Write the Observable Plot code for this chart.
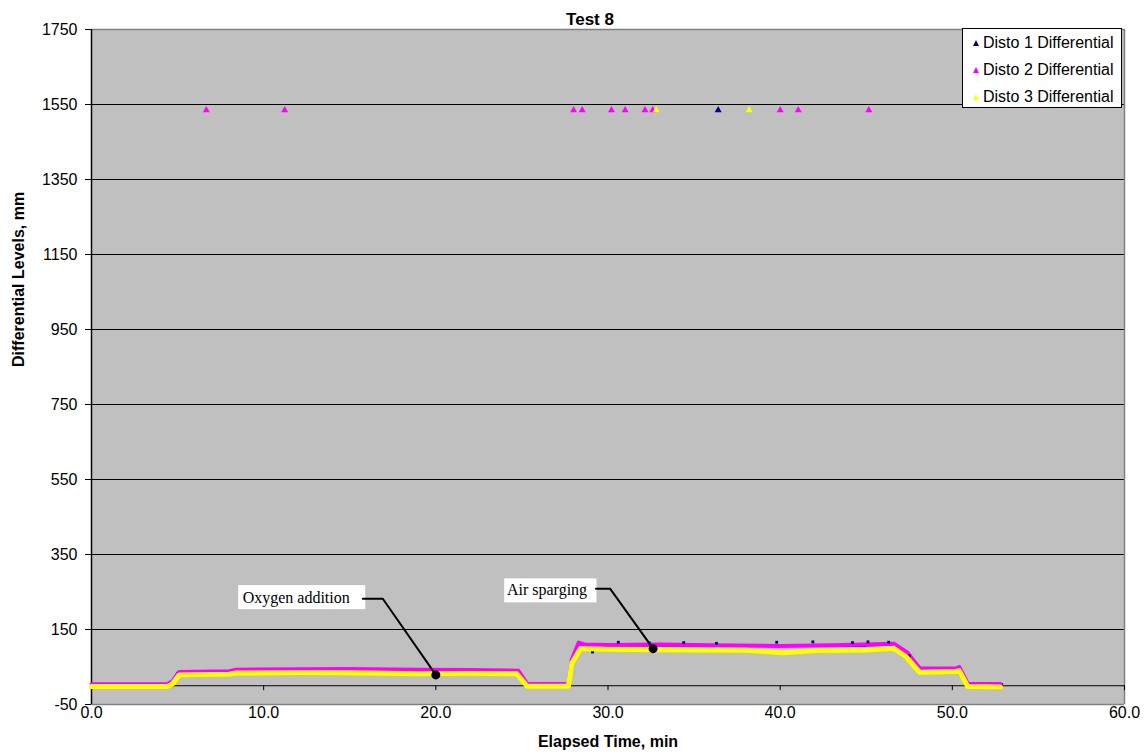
<!DOCTYPE html>
<html>
<head>
<meta charset="utf-8">
<script src="https://cdn.jsdelivr.net/npm/d3@7"></script>
<script src="https://cdn.jsdelivr.net/npm/@observablehq/plot@0.6"></script>
<style>
  html, body { margin: 0; padding: 0; background: #fff; }
  #wrap { position: relative; width: 1147px; height: 754px; font-family: "Liberation Sans", Arial, sans-serif; }
  #legend { position: absolute; left: 962px; top: 28px; width: 158px; height: 78px; border: 1px solid #000; background: #fff; font-size: 16px; }
  #legend .row { position: absolute; left: 0; height: 20px; line-height: 20px; white-space: nowrap; }
  #legend svg { position: absolute; left: 10px; top: 7px; }
  #legend span { position: absolute; left: 20px; top: 0; }
</style>
</head>
<body>
<div id="wrap"></div>
<script>
// ---- Data ----
const title = "Test 8";
const xLabel = "Elapsed Time, min";
const yLabel = "Differential Levels, mm";
const seriesNames = ["Disto 1 Differential", "Disto 2 Differential", "Disto 3 Differential"];
const seriesColors = ["#000080", "#FF00FF", "#FFFF00"];

const xTicks = [0, 10, 20, 30, 40, 50, 60];
const yTicks = [-50, 150, 350, 550, 750, 950, 1150, 1350, 1550, 1750];

// Disto 1 (navy) – mostly hidden under the others
const disto1Time = [0, 4.6, 5.0, 8.0, 12, 19, 24.7, 25.2, 27.7, 28.0, 28.3, 30, 35, 40, 45, 46.6, 47.5, 48.2, 50.2, 50.8, 52.9];
const disto1Value = [3, 3, 36, 39, 42, 40, 40, 5, 5, 80, 113, 108, 107, 106, 107, 110, 82, 45, 45, 5, 5];
// Disto 1 scattered specks on the sparging plateau
const disto1SpeckTime = [29.1, 30.6, 32.4, 34.4, 36.3, 39.8, 41.9, 44.2, 45.1, 46.3, 47.5];
const disto1SpeckValue = [90, 116, 114, 115, 113, 116, 117, 115, 117, 116, 80];

// Disto 2 (magenta)
const disto2Time = [0, 4.4, 4.7, 5.1, 8.0, 8.4, 12, 15, 19, 22, 24.8, 25.3, 27.7, 27.9, 28.3, 28.6, 30, 33, 36, 40, 43, 46.6, 47.4, 48.1, 50.2, 50.4, 50.9, 52.8];
const disto2Value = [4, 4, 12, 37, 39, 43, 44, 45, 43, 42, 40, 5, 5, 70, 115, 110, 109, 110, 108, 106, 108, 112, 88, 46, 46, 50, 5, 5];

// Disto 3 (yellow)
const disto3Time = [0, 4.4, 4.7, 5.1, 8.0, 8.4, 12, 15, 19, 22, 24.7, 25.3, 27.7, 27.9, 28.4, 30, 33, 36, 38, 40.2, 42, 45, 46.6, 47.3, 48.1, 50.2, 50.4, 50.9, 52.8];
const disto3Value = [-2, -2, 5, 29, 31, 34, 35, 35, 32, 33, 32, -1, -1, 60, 99, 97, 96, 95, 95, 88, 94, 95, 100, 78, 36, 38, 40, -2, -3];

// Outliers at the top
const outlierTime = [6.67, 11.22, 28.0, 28.5, 30.2, 31.0, 32.15, 32.6, 32.8, 36.4, 38.2, 40.0, 41.05, 45.15];
const outlierValue = [1535, 1535, 1535, 1535, 1535, 1535, 1535, 1535, 1535, 1535, 1535, 1535, 1535, 1535];
const outlierSeries = [1, 1, 1, 1, 1, 1, 1, 1, 2, 0, 2, 1, 1, 1];

// Annotations
const annoText = ["Oxygen addition", "Air sparging"];
const annoTextX = [8.78, 24.13];
const annoTextY = [235, 256];
const annoBoxX1 = [8.55, 24.0];
const annoBoxX2 = [15.93, 29.36];
const annoBoxY1 = [203, 221];
const annoBoxY2 = [267, 285];
const leader1Time = [15.76, 16.92, 20.0];
const leader1Value = [232, 232, 29];
const leader2Time = [29.3, 30.12, 32.62];
const leader2Value = [259, 259, 99];
const annoDotTime = [20.0, 32.62];
const annoDotValue = [29, 99];

// ---- Build tables ----
const toRows = (ts, vs) => ts.map((t, i) => ({t, v: vs[i]}));
const d1 = toRows(disto1Time, disto1Value);
const d1s = toRows(disto1SpeckTime, disto1SpeckValue);
const d2 = toRows(disto2Time, disto2Value);
const d3 = toRows(disto3Time, disto3Value);
const outliers = outlierTime.map((t, i) => ({t, v: outlierValue[i], c: seriesColors[outlierSeries[i]]}));
const boxes = annoText.map((s, i) => ({s, x1: annoBoxX1[i], x2: annoBoxX2[i], y1: annoBoxY1[i], y2: annoBoxY2[i], tx: annoTextX[i], ty: annoTextY[i]}));
const leader1 = toRows(leader1Time, leader1Value);
const leader2 = toRows(leader2Time, leader2Value);
const annoDots = toRows(annoDotTime, annoDotValue);

const gridVals = yTicks.slice(1, -1);

const chart = Plot.plot({
  width: 1147,
  height: 754,
  marginTop: 29,
  marginRight: 23,
  marginBottom: 50,
  marginLeft: 91,
  style: {fontFamily: "'Liberation Sans', Arial, sans-serif", fontSize: "16px", color: "#000", background: "transparent"},
  x: {domain: [0, 60], ticks: xTicks},
  y: {domain: [-50, 1750], ticks: yTicks},
  marks: [
    Plot.frame({fill: "#C0C0C0", stroke: null}),
    Plot.ruleY(gridVals, {stroke: "#000", strokeWidth: 1}),
    Plot.ruleY([1750, -50], {stroke: "#808080", strokeWidth: 1.5}),
    Plot.ruleX([60], {stroke: "#808080", strokeWidth: 1.5}),
    Plot.ruleY([0], {stroke: "#000", strokeWidth: 1}),
    Plot.ruleX(xTicks, {y1: 0, y2: -13, stroke: "#000"}),
    Plot.axisY({ticks: yTicks, tickSize: 6, tickPadding: 8, label: null, tickFormat: d => String(d)}),
    Plot.ruleX([0], {stroke: "#000", strokeWidth: 1.5}),
    Plot.axisX({ticks: xTicks, tickSize: 0, tickPadding: 2, label: null, tickFormat: d => d.toFixed(1)}),
    // series
    Plot.line(d1, {x: "t", y: "v", stroke: seriesColors[0], strokeWidth: 2}),
    Plot.line(d2, {x: "t", y: "v", stroke: seriesColors[1], strokeWidth: 4}),
    Plot.dot(d1s, {x: "t", y: "v", fill: seriesColors[0], r: 1.6, symbol: "square"}),
    Plot.line(d3, {x: "t", y: "v", stroke: seriesColors[2], strokeWidth: 5}),
    Plot.dot(outliers, {x: "t", y: "v", fill: "c", symbol: "triangle", r: 2.6}),
    // annotations
    Plot.rect(boxes, {x1: "x1", x2: "x2", y1: "y1", y2: "y2", fill: "#fff"}),
    Plot.text(boxes, {x: "tx", y: "ty", text: "s", textAnchor: "start", fontFamily: "'Liberation Serif', 'Times New Roman', serif", fontSize: 16, fill: "#000"}),
    Plot.line(leader1, {x: "t", y: "v", stroke: "#000", strokeWidth: 2}),
    Plot.line(leader2, {x: "t", y: "v", stroke: "#000", strokeWidth: 2}),
    Plot.dot(annoDots, {x: "t", y: "v", fill: "#000", r: 4.5}),
    // titles
    Plot.text([title], {frameAnchor: "top", dx: -18, dy: -17, fontWeight: "bold", fontSize: 17}),
    Plot.text([xLabel], {frameAnchor: "bottom", dy: 42, fontWeight: "bold", fontSize: 16}),
    Plot.text([yLabel], {frameAnchor: "left", dx: -73, rotate: -90, fontWeight: "bold", fontSize: 16})
  ]
});

const wrap = document.getElementById("wrap");
wrap.appendChild(chart);

const legend = document.createElement("div");
legend.id = "legend";
seriesNames.forEach((name, i) => {
  const row = document.createElement("div");
  row.className = "row";
  row.style.top = (4 + i * 27) + "px";
  row.innerHTML = `<svg width="6" height="6" viewBox="0 0 6 6"><polygon points="3,0 6,6 0,6" fill="${seriesColors[i]}"/></svg><span>${name}</span>`;
  legend.appendChild(row);
});
wrap.appendChild(legend);
</script>
</body>
</html>
